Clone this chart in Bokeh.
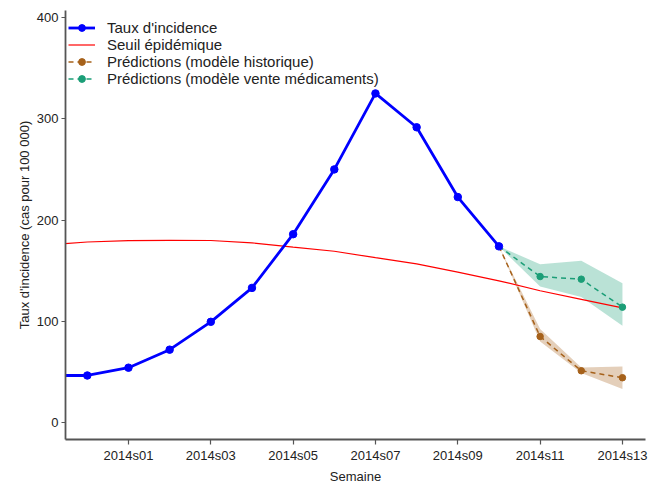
from bokeh.plotting import figure
from bokeh.models import Range1d, FixedTicker, Legend, LegendItem
from bokeh.embed import file_html
from bokeh.resources import INLINE

# ---- data ----
weeks = [-1, 0, 1, 2, 3, 4, 5, 6, 7, 8, 9, 10]
incidence = [46.5, 46.5, 54.2, 72.0, 99.5, 133.0, 186.0, 250.0, 325.0, 291.6, 222.7, 174.0]

seuil_weeks = [-1, 0, 1, 2, 3, 4, 5, 6, 7, 8, 9, 10, 11, 12, 13]
seuil = [175.5, 178.3, 179.6, 180.0, 179.8, 177.5, 173.2, 169.2, 162.8, 156.8, 148.6, 140.0, 130.2, 121.7, 113.2]

pred_weeks = [10, 11, 12, 13]
hist = [174.0, 85.0, 51.2, 44.3]
hist_low = [174.0, 80.0, 49.0, 33.2]
hist_high = [174.0, 92.3, 54.5, 55.5]
vente = [174.0, 144.2, 141.6, 114.0]
vente_low = [174.0, 134.3, 124.0, 95.6]
vente_high = [174.0, 156.4, 159.9, 137.6]

tick_weeks = [1, 3, 5, 7, 9, 11, 13]
tick_labels = ["2014s01", "2014s03", "2014s05", "2014s07", "2014s09", "2014s11", "2014s13"]
y_ticks = [0, 100, 200, 300, 400]

BLUE = "#0000FF"
RED = "#FF0000"
BROWN = "#A6611A"
GREEN = "#1B9E77"
FONT = "Liberation Sans"

p = figure(width=655, height=486, output_backend="svg", toolbar_location=None,
           x_range=Range1d(-0.53, 13.56), y_range=Range1d(-16.7, 406.9),
           min_border_left=65, min_border_right=10, min_border_top=10, min_border_bottom=46,
           background_fill_color="white", border_fill_color="white")
p.outline_line_color = None
p.xgrid.visible = False
p.ygrid.visible = False

# bands
p.varea(x=pred_weeks, y1=hist_low, y2=hist_high, fill_color=BROWN, fill_alpha=0.3)
p.varea(x=pred_weeks, y1=vente_low, y2=vente_high, fill_color=GREEN, fill_alpha=0.3)

# threshold
r_seuil = p.line(seuil_weeks, seuil, line_color=RED, line_width=1.2)

# predictions
r_hl = p.line(pred_weeks, hist, line_color=BROWN, line_width=1.5, line_dash="5 4")
r_hc = p.scatter(pred_weeks[1:], hist[1:], size=6.5, color=BROWN)
r_vl = p.line(pred_weeks, vente, line_color=GREEN, line_width=1.5, line_dash="5 4")
r_vc = p.scatter(pred_weeks[1:], vente[1:], size=6.5, color=GREEN)

# incidence
r_il = p.line(weeks, incidence, line_color=BLUE, line_width=2.8)
r_ic = p.scatter(weeks, incidence, size=7.5, color=BLUE)

# axes
for ax in (p.xaxis[0], p.yaxis[0]):
    ax.axis_line_color = "#555555"
    ax.axis_line_width = 1.8
    ax.major_tick_line_color = "#555555"
    ax.major_tick_line_width = 1.2
    ax.major_tick_in = 0
    ax.major_tick_out = 5
    ax.minor_tick_line_color = None
    ax.major_label_text_font = FONT
    ax.major_label_text_font_size = "13px"
    ax.major_label_text_color = "#222222"
    ax.axis_label_text_font = FONT
    ax.axis_label_text_font_size = "13px"
    ax.axis_label_text_font_style = "normal"
    ax.axis_label_text_color = "#222222"

p.xaxis.ticker = FixedTicker(ticks=tick_weeks)
p.xaxis.major_label_overrides = {w: l for w, l in zip(tick_weeks, tick_labels)}
p.xaxis.axis_label = "Semaine"
p.xaxis.major_label_standoff = 3
p.xaxis.axis_label_standoff = 3

p.yaxis.ticker = FixedTicker(ticks=y_ticks)
p.yaxis.axis_label = "Taux d'incidence (cas pour 100 000)"
p.yaxis.major_tick_out = 4
p.yaxis.major_label_standoff = 3
p.yaxis.axis_label_standoff = 2

legend = Legend(items=[
    LegendItem(label="Taux d'incidence", renderers=[r_il, r_ic]),
    LegendItem(label="Seuil épidémique", renderers=[r_seuil]),
    LegendItem(label="Prédictions (modèle historique)", renderers=[r_hl, r_hc]),
    LegendItem(label="Prédictions (modèle vente médicaments)", renderers=[r_vl, r_vc]),
], location=(3, 352))
legend.padding = 0
legend.margin = 0
legend.spacing = 0
legend.border_line_color = None
legend.background_fill_alpha = 0
legend.label_text_font = FONT
legend.label_text_font_size = "15px"
legend.label_text_color = "#222222"
legend.glyph_width = 27
legend.glyph_height = 17
legend.label_height = 17
legend.label_standoff = 12
p.add_layout(legend)

open("out.html", "w").write(file_html(p, INLINE))
